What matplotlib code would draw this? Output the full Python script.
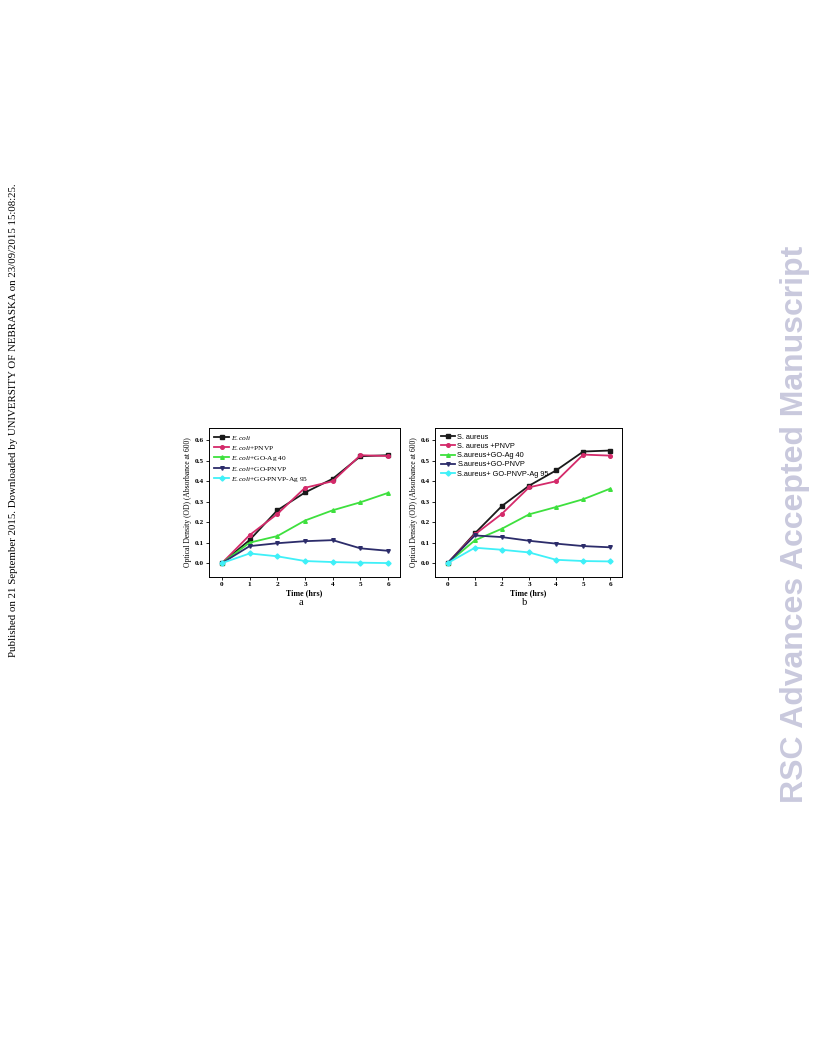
import matplotlib
matplotlib.use("Agg")
import matplotlib.pyplot as plt

plt.rcParams["mathtext.fontset"] = "custom"
plt.rcParams["mathtext.it"] = "Liberation Serif:italic"
plt.rcParams["mathtext.rm"] = "Liberation Serif"

hours = [0, 1, 2, 3, 4, 5, 6]

# Panel a (E. coli)
a_labels = [r"$\it{E.coli}$", r"$\it{E.coli}$+PNVP", r"$\it{E.coli}$+GO-Ag 40",
            r"$\it{E.coli}$+GO-PNVP", r"$\it{E.coli}$+GO-PNVP-Ag 95"]
a_ecoli = [0.0, 0.113, 0.258, 0.345, 0.412, 0.522, 0.527]
a_pnvp = [0.0, 0.137, 0.240, 0.368, 0.400, 0.527, 0.523]
a_goag = [0.0, 0.100, 0.132, 0.208, 0.258, 0.297, 0.343]
a_gopnvp = [0.0, 0.083, 0.097, 0.107, 0.112, 0.072, 0.060]
a_ag95 = [0.0, 0.047, 0.033, 0.010, 0.005, 0.002, 0.000]

# Panel b (S. aureus)
b_labels = ["S. aureus", "S. aureus +PNVP", "S.aureus+GO-Ag 40", "S.aureus+GO-PNVP", "S.aureus+ GO-PNVP-Ag 95"]
b_saureus = [0.0, 0.145, 0.279, 0.378, 0.453, 0.545, 0.550]
b_pnvp = [0.0, 0.140, 0.241, 0.370, 0.400, 0.530, 0.525]
b_goag = [0.0, 0.111, 0.168, 0.238, 0.274, 0.312, 0.364]
b_gopnvp = [0.0, 0.135, 0.127, 0.109, 0.095, 0.083, 0.077]
b_ag95 = [0.0, 0.075, 0.065, 0.052, 0.016, 0.010, 0.008]

y_ticks = [0.0, 0.1, 0.2, 0.3, 0.4, 0.5, 0.6]

colors = ["#1a1a1a", "#d42a6a", "#3ee03e", "#2c2c6a", "#3ff0f8"]
markers = ["s", "o", "^", "v", "D"]

fig = plt.figure(figsize=(8.16, 10.56), dpi=100)

def panel(rect, series, labels, legend_family, letter):
    ax = fig.add_axes(rect)
    for s, lab, c, m in zip(series, labels, colors, markers):
        ax.plot(hours, s, color=c, marker=m, markersize=2.6, linewidth=1.3, label=lab)
    ax.set_xlim(-0.47, 6.43)
    ax.set_ylim(-0.068, 0.66)
    ax.set_xticks(hours)
    ax.set_yticks(y_ticks)
    ax.set_yticklabels([f"{v:.1f}" for v in y_ticks])
    ax.tick_params(labelsize=5.2, length=2, width=0.6, pad=1.5, direction="out")
    for lab in ax.get_xticklabels() + ax.get_yticklabels():
        lab.set_family("Liberation Serif")
        lab.set_fontweight("bold")
    for sp in ax.spines.values():
        sp.set_linewidth(0.7)
    ax.set_xlabel("Time (hrs)", fontsize=5.8, family="Liberation Serif", labelpad=1.5, fontweight="bold")
    ax.set_ylabel("Optical Density (OD) (Absorbance at 600)", fontsize=5.5, family="Liberation Serif", labelpad=2)
    ax.legend(loc="upper left", frameon=False, handlelength=2.0, handletextpad=0.3,
              labelspacing=0.28, borderaxespad=0.35, prop={"family": legend_family, "size": 5.3})
    ax.text(0.48, -0.14, letter, transform=ax.transAxes, ha="center", va="top", fontsize=7.5,
            family="Liberation Serif")
    return ax

panel([0.2561, 0.4536, 0.2341, 0.1411],
      [a_ecoli, a_pnvp, a_goag, a_gopnvp, a_ag95], a_labels, "Liberation Serif", "a")
panel([0.5331, 0.4536, 0.2292, 0.1411],
      [b_saureus, b_pnvp, b_goag, b_gopnvp, b_ag95], b_labels, "Liberation Sans", "b")

fig.text(0.016, 0.602, "Published on 21 September 2015. Downloaded by UNIVERSITY OF NEBRASKA on 23/09/2015 15:08:25.",
         rotation=90, ha="center", va="center", fontsize=7.8, family="Liberation Serif")
fig.text(0.974, 0.503, "RSC Advances Accepted Manuscript", rotation=90, ha="center", va="center",
         fontsize=23, family="Liberation Sans", fontweight="bold", color="#c9c9dd")

fig.savefig("out.png", dpi=100)
